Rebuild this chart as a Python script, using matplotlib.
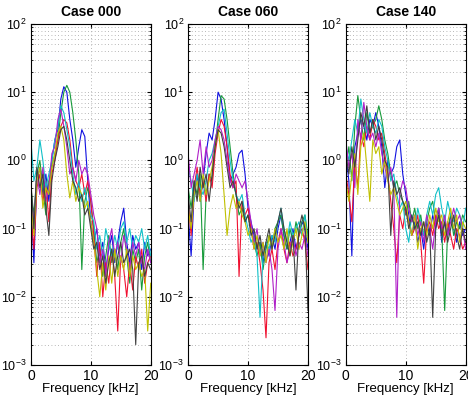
"""
Spectra of the three cases, log scale
"""

import numpy as np
import matplotlib
matplotlib.use('Agg')
import matplotlib.pyplot as plt
from matplotlib.ticker import LogLocator, NullFormatter

plt.rcParams['font.family'] = ['Liberation Sans', 'DejaVu Sans']
plt.rcParams['mathtext.fontset'] = 'custom'
plt.rcParams['mathtext.rm'] = 'Liberation Sans'
plt.rcParams['mathtext.it'] = 'Liberation Sans:italic'
plt.rcParams['mathtext.bf'] = 'Liberation Sans:bold'

# frequency grid [kHz]
freq = [0.5 * i for i in range(41)]

# log10 of spectral amplitude
case000_blue = [-0.6, -1.5, -0.3, -0.1, -0.5, -0.2, -0.6, 0.0, 0.3, 0.45, 0.9, 1.08, 1.0, 0.6, 0.3, -0.1, 0.2, 0.45, 0.35, -0.3, -0.9,
                -1.2, -1.0, -1.4, -1.2, -1.6, -1.3, -1.1, -1.5, -1.2, -0.9, -0.7, -1.2, -1.5, -1.1, -1.3, -1.2, -1.6, -1.2, -1.4, -1.3]
case000_green = [-0.4, -0.8, -0.2, 0.0, -0.4, -0.8, -0.3, -0.1, 0.1, 0.3, 0.7, 1.0, 1.1, 1.0, 0.7, 0.3, -0.2, -1.6, -0.6, -0.4, -0.6,
                 -1.0, -1.5, -1.3, -1.7, -1.4, -1.1, -1.5, -1.3, -1.6, -1.2, -1.0, -1.4, -1.8, -1.3, -1.5, -1.3, -1.9, -1.4, -1.2, -1.5]
case000_red = [-0.8, -1.3, -0.4, -0.2, -0.6, -0.3, -0.9, -0.2, 0.0, 0.3, 0.5, 0.6, 0.55, 0.3, -0.1, -0.3, -0.4, -0.2, -0.5, -0.3, -0.6,
               -1.1, -1.7, -1.2, -2.0, -1.5, -1.8, -1.3, -1.7, -2.5, -1.4, -1.6, -2.0, -1.5, -1.9, -1.4, -1.6, -1.3, -1.8, -1.5, -1.4]
case000_cyan = [0.3, -0.3, -0.1, 0.3, 0.0, -0.4, -0.2, 0.0, 0.3, 0.5, 0.8, 0.7, 0.45, 0.2, -0.2, -0.5, -0.3, -0.6, -0.4, -0.7, -0.8,
                -0.9, -1.3, -1.1, -1.4, -1.0, -1.2, -1.4, -1.1, -1.3, -1.0, -0.9, -1.2, -1.0, -1.3, -1.1, -1.2, -1.0, -1.3, -1.1, -1.4]
case000_magenta = [-0.5, -0.9, -0.2, -0.5, -0.1, -0.6, -0.4, 0.1, 0.2, 0.6, 0.75, 0.5, 0.2, -0.2, -0.1, -0.3, 0.0, -0.2, -0.1, -0.2, -0.5,
                   -0.8, -1.0, -1.5, -1.3, -1.7, -1.2, -1.0, -1.4, -1.2, -1.5, -1.1, -1.3, -1.6, -1.2, -1.4, -1.2, -1.5, -1.6, -1.3, -1.5]
case000_yellow = [-0.6, -1.1, -0.3, -0.1, -0.7, -0.4, -0.5, -0.1, 0.1, 0.4, 0.5, 0.3, -0.2, -0.55, -0.3, -0.6, -0.4, -0.5, -0.7, -0.6, -0.9,
                  -1.2, -1.6, -2.0, -1.5, -1.9, -1.4, -1.8, -1.3, -1.7, -1.4, -1.6, -1.3, -1.7, -1.4, -1.6, -1.5, -1.7, -1.6, -2.5, -1.8]
case000_gray = [-0.3, -1.0, -0.1, -0.4, -0.2, -0.7, -1.1, -0.3, 0.0, 0.2, 0.45, 0.5, 0.3, 0.0, -0.3, -0.4, -0.6, -0.5, -0.8, -0.7, -1.0,
                -1.3, -1.2, -1.6, -1.4, -1.8, -1.5, -1.3, -1.7, -1.4, -1.2, -1.5, -1.4, -1.3, -1.6, -2.7, -1.5, -1.4, -1.7, -1.5, -1.6]

case060_blue = [-0.8, -1.4, -0.5, -0.2, -0.6, -0.3, 0.1, 0.4, 0.3, 0.6, 1.0, 0.9, 0.6, 0.2, -0.3, -0.2, -0.1, 0.1, 0.15, -0.2, -0.7,
                -0.9, -1.1, -1.3, -1.2, -1.5, -1.2, -1.4, -1.1, -1.3, -1.0, -0.8, -1.1, -1.3, -1.2, -1.0, -1.3, -1.1, -0.9, -1.0, -1.3]
case060_green = [-0.4, -0.7, -0.3, -0.5, -0.2, -1.6, -0.5, -0.2, -0.3, 0.2, 0.6, 0.95, 0.9, 0.6, 0.2, -0.2, -0.5, -0.8, -0.7, -0.9, -0.8,
                 -1.0, -1.2, -1.4, -1.2, -1.6, -1.3, -1.1, -1.3, -1.0, -0.9, -0.8, -1.1, -1.3, -1.0, -1.2, -0.9, -1.1, -0.9, -0.8, -1.1]
case060_red = [-0.6, -1.1, -0.4, -0.1, -0.5, -0.3, -0.6, -0.2, -0.4, 0.1, 0.4, 0.6, 0.5, 0.2, -0.2, -0.4, -0.3, -1.7, -0.6, -0.8, -0.7,
               -1.0, -1.3, -1.2, -1.5, -1.9, -2.6, -1.5, -1.3, -1.6, -1.2, -1.0, -1.3, -1.5, -1.2, -1.4, -1.3, -1.1, -1.0, -1.2, -1.6]
case060_cyan = [-0.1, -0.3, -0.6, -0.2, -0.4, -0.5, -0.3, 0.0, 0.1, 0.3, 0.5, 0.7, 0.75, 0.4, 0.0, -0.3, -0.5, -0.6, -0.5, -0.8, -1.0,
                -1.2, -1.1, -1.4, -2.3, -1.4, -1.2, -1.3, -1.1, -1.2, -0.9, -0.7, -1.0, -1.2, -0.9, -1.1, -1.0, -0.9, -1.1, -0.8, -1.2]
case060_magenta = [0.1, -0.4, -0.2, 0.0, 0.3, -0.2, 0.2, -0.1, 0.0, 0.3, 0.5, 0.45, 0.3, 0.0, -0.3, -0.4, -0.2, -0.3, -0.4, -0.3, -0.6,
                   -0.9, -1.2, -1.0, -1.4, -1.2, -1.5, -1.3, -1.6, -2.2, -1.3, -1.0, -1.2, -1.5, -1.3, -1.1, -1.4, -1.2, -1.3, -1.1, -1.4]
case060_yellow = [-0.7, -1.0, -0.5, -0.3, -0.6, -0.2, -0.5, -0.3, -0.1, 0.2, 0.45, 0.1, -0.5, -1.1, -0.7, -0.5, -0.7, -0.6, -0.8, -0.9, -1.1,
                  -1.0, -1.3, -1.1, -1.4, -1.2, -1.5, -1.1, -1.3, -1.0, -1.2, -1.1, -1.3, -1.0, -1.4, -1.2, -1.0, -1.3, -1.1, -0.9, -1.2]
case060_gray = [-0.5, -0.9, -0.3, -0.6, -0.1, -0.4, -0.2, -0.6, -0.2, 0.2, 0.45, 0.4, 0.2, -0.1, -0.4, -0.3, -0.5, -0.7, -0.6, -0.9, -0.8,
                -1.1, -1.0, -1.3, -1.1, -1.4, -1.2, -1.0, -1.3, -1.1, -0.9, -0.7, -1.0, -1.2, -1.4, -1.1, -1.9, -1.0, -0.8, -1.0, -2.2]

case140_blue = [0.1, -0.3, -1.4, 0.2, 0.4, 0.6, 0.5, 0.3, 0.6, 0.5, 0.7, 0.5, 0.2, -0.4, 0.0, -0.2, -0.1, 0.2, 0.3, -0.2, -0.5,
                -0.8, -1.1, -0.9, -1.2, -1.0, -1.3, -0.9, -1.1, -0.8, -1.0, -0.7, -1.2, -0.9, -1.1, -0.8, -1.0, -1.2, -0.9, -1.1, -1.0]
case140_green = [-0.1, 0.2, -0.3, 0.5, 0.95, 0.6, 0.3, 0.7, 0.4, 0.5, 0.6, 0.8, 0.6, 0.3, 0.1, -0.2, -0.4, -0.3, -0.5, -0.6, -0.8,
                 -0.6, -0.9, -0.7, -1.0, -0.8, -1.1, -0.9, -0.7, -0.6, -0.9, -0.7, -1.0, -2.2, -1.0, -0.8, -1.1, -0.9, -1.0, -0.8, -0.9]
case140_red = [-0.2, -0.5, -0.9, 0.0, -0.4, 0.4, 0.2, 0.5, 0.3, 0.6, 0.5, 0.3, 0.4, 0.1, -0.2, -0.6, -1.0, -1.5, -0.8, -1.0, -0.7,
               -0.9, -1.1, -1.0, -0.8, -1.2, -1.8, -1.0, -0.9, -1.1, -0.8, -1.0, -0.9, -1.2, -0.9, -1.1, -1.3, -1.0, -1.1, -1.3, -1.2]
case140_cyan = [0.2, 0.0, 0.3, 0.6, 0.4, 0.9, 0.6, 0.4, 0.7, 0.5, 0.4, 0.6, 0.5, 0.2, 0.0, -0.3, -0.2, -0.5, -0.7, -0.6, -1.0,
                -1.2, -0.8, -1.0, -0.7, -0.9, -1.1, -0.8, -0.6, -0.8, -0.5, -0.4, -0.7, -0.9, -0.6, -0.8, -0.9, -0.7, -0.8, -1.0, -0.7]
case140_magenta = [0.3, -0.1, 0.1, -0.4, 0.6, 0.3, 0.85, 0.5, 0.3, 0.4, 0.2, 0.4, 0.1, -0.1, -0.3, -0.1, -0.4, -2.3, -0.5, -0.3, -0.4,
                   -0.7, -0.9, -0.8, -1.1, -0.9, -1.2, -0.8, -1.0, -1.3, -0.9, -0.7, -1.0, -0.8, -1.1, -0.9, -0.7, -0.9, -0.8, -1.0, -1.3]
case140_yellow = [-0.3, -0.6, -0.2, 0.1, -0.5, 0.2, 0.4, -0.1, -0.6, 0.3, 0.1, 0.2, -0.2, 0.0, -0.3, -0.5, -0.4, -0.6, -0.8, -0.7, -0.6,
                  -0.9, -1.1, -0.8, -1.3, -1.0, -0.9, -1.1, -0.8, -1.0, -0.7, -0.9, -0.8, -1.1, -0.9, -0.7, -1.0, -0.8, -1.2, -0.9, -1.0]
case140_gray = [0.1, -0.2, 0.2, -0.1, 0.3, 0.7, 0.5, 0.8, 0.4, 0.6, 0.3, 0.5, 0.3, 0.0, -0.1, -1.1, -0.3, -0.5, -0.4, -0.6, -0.7,
                -1.0, -0.8, -1.0, -0.9, -1.1, -0.9, -1.2, -1.0, -2.3, -1.0, -0.8, -1.1, -0.9, -1.2, -1.0, -0.8, -1.1, -1.3, -1.0, -1.2]

titles = ['Case 000', 'Case 060', 'Case 140']
cases = [
    [case000_blue, case000_green, case000_red, case000_cyan, case000_magenta, case000_yellow, case000_gray],
    [case060_blue, case060_green, case060_red, case060_cyan, case060_magenta, case060_yellow, case060_gray],
    [case140_blue, case140_green, case140_red, case140_cyan, case140_magenta, case140_yellow, case140_gray],
]
colors = ['#1010e0', '#179a3a', '#f01030', '#10c0c8', '#b020c8', '#c0c000', '#404040']

fig = plt.figure(figsize=(4.68, 3.99), dpi=100)
lefts = [0.066, 0.402, 0.739]
grid_style = dict(ls=(0, (1, 3)), color='#a0a0a0', lw=0.6)

for k in range(3):
    ax = fig.add_axes([lefts[k], 0.085, 0.256, 0.855])
    for vals, c in zip(cases[k], colors):
        ax.plot(freq, 10.0 ** np.array(vals), color=c, lw=0.8)
    ax.set_yscale('log')
    ax.set_xlim(0, 20)
    ax.set_ylim(1e-3, 1e2)
    ax.set_xticks([0, 10, 20])
    ax.yaxis.set_major_locator(LogLocator(base=10, numticks=10))
    ax.yaxis.set_minor_locator(LogLocator(base=10, subs=np.arange(2, 10), numticks=20))
    ax.yaxis.set_minor_formatter(NullFormatter())
    ax.tick_params(axis='y', labelsize=9, pad=3)
    ax.tick_params(axis='x', labelsize=10, pad=3)
    ax.tick_params(direction='in', length=3, top=True, right=True)
    ax.tick_params(which='minor', direction='in', length=1.5, right=True)
    ax.grid(True, which='major', **grid_style)
    ax.grid(True, which='minor', axis='y', **grid_style)
    ax.set_title(titles[k], fontsize=10, fontweight='bold', pad=6)
    ax.set_xlabel('Frequency [kHz]', fontsize=9.5, labelpad=0)
    for s in ax.spines.values():
        s.set_linewidth(0.8)

plt.savefig('out.png', dpi=100)
